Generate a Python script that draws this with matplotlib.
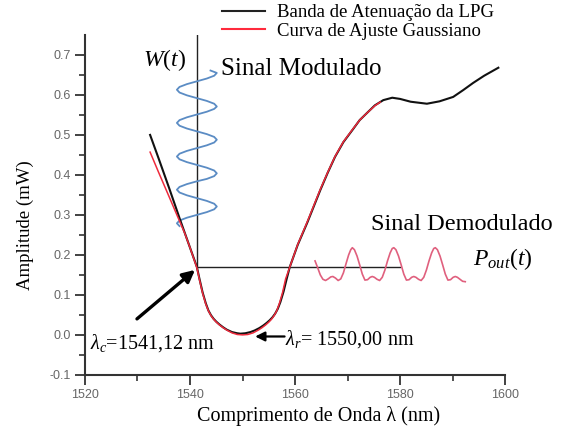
import matplotlib
matplotlib.use("Agg")
import matplotlib.pyplot as plt
from matplotlib.lines import Line2D

plt.rcParams['mathtext.fontset'] = 'custom'
plt.rcParams['mathtext.rm'] = 'Liberation Serif'
plt.rcParams['mathtext.it'] = 'Liberation Serif:italic'

SERIF = 'Liberation Serif'
SANS = 'Liberation Sans'

# --- data ---
# LPG attenuation band (black)
lpg_wl = [1532.4, 1534.0, 1536.0, 1538.0, 1540.0, 1541.3, 1541.8, 1542.4, 1543.0,
          1543.5, 1544.0, 1544.5, 1545.0, 1545.6, 1546.3, 1547.0, 1548.0, 1549.0,
          1549.6, 1550.5, 1551.5, 1552.3, 1553.2, 1553.9, 1554.6, 1555.2, 1555.7,
          1556.2, 1556.7, 1557.2, 1557.8, 1558.4, 1559.0, 1560.5, 1562.3, 1564.8,
          1566.2, 1567.6, 1569.2, 1570.9, 1572.3, 1573.7, 1575.2, 1576.8, 1578.5,
          1580.0, 1582.0, 1585.1, 1587.5, 1590.1, 1592.0, 1593.9, 1596.0, 1598.7]
lpg_amp = [0.500, 0.442, 0.368, 0.292, 0.218, 0.170, 0.140, 0.106, 0.079,
           0.061, 0.049, 0.040, 0.033, 0.026, 0.019, 0.013, 0.007, 0.004,
           0.003, 0.004, 0.007, 0.011, 0.017, 0.023, 0.030, 0.037, 0.044,
           0.053, 0.065, 0.082, 0.108, 0.140, 0.170, 0.225, 0.280, 0.362,
           0.405, 0.445, 0.482, 0.512, 0.537, 0.555, 0.574, 0.587, 0.593,
           0.590, 0.583, 0.578, 0.584, 0.595, 0.612, 0.630, 0.648, 0.668]

# gaussian fit (red)
fit_wl = [1532.4, 1534.0, 1536.0, 1537.5, 1539.0, 1540.0, 1541.3, 1541.8, 1542.4,
          1543.0, 1543.5, 1544.0, 1544.5, 1545.0, 1545.6, 1546.3, 1547.0, 1548.0,
          1549.0, 1550.0, 1551.0, 1552.0, 1553.0, 1553.7, 1554.4, 1555.0, 1555.5,
          1556.0, 1556.5, 1557.0, 1557.6, 1558.2, 1559.0, 1560.5, 1562.3, 1564.8,
          1566.2, 1567.6, 1569.2, 1570.9, 1572.3, 1573.7, 1575.2, 1576.2]
fit_amp = [0.457, 0.407, 0.346, 0.300, 0.254, 0.218, 0.168, 0.138, 0.104,
           0.077, 0.060, 0.048, 0.039, 0.032, 0.025, 0.018, 0.012, 0.005,
           0.001, 0.000, 0.001, 0.005, 0.012, 0.018, 0.025, 0.032, 0.039,
           0.048, 0.060, 0.078, 0.105, 0.140, 0.170, 0.226, 0.282, 0.364,
           0.406, 0.446, 0.483, 0.513, 0.537, 0.555, 0.573, 0.582]

# working point
lam_c = 1541.3
amp_c = 0.170
line_end = 1580.0

# modulated signal W(t): offsets (nm) around lam_c vs amplitude
mod_dx = [2.6, 3.8, 3.3, 1.9, 0.0, -1.9, -3.3, -3.8, -3.3, -1.9, 0.0, 1.9, 3.3,
          3.8, 3.3, 1.9, 0.0, -1.9, -3.3, -3.8, -3.3, -1.9, 0.0, 1.9, 3.3,
          3.8, 3.3, 1.9, 0.0, -1.9, -3.3, -3.8, -3.3, -1.9, 0.0, 1.9, 3.3,
          3.8, 3.3, 1.9, 0.0, -1.9, -3.3, -3.8, -3.3, -1.9, 0.0, 1.9, 3.3,
          3.8, 3.3, 1.9, 0.0, -1.9, -3.3, -3.8, -3.3]
mod_amp = [0.661, 0.655, 0.648, 0.641, 0.634, 0.627, 0.620, 0.613, 0.606, 0.599, 0.592, 0.585, 0.578,
           0.571, 0.565, 0.558, 0.551, 0.544, 0.537, 0.530, 0.523, 0.516, 0.509, 0.502, 0.495,
           0.488, 0.481, 0.474, 0.467, 0.460, 0.453, 0.446, 0.439, 0.432, 0.425, 0.418, 0.411,
           0.404, 0.397, 0.390, 0.384, 0.377, 0.370, 0.363, 0.356, 0.349, 0.342, 0.335, 0.328,
           0.321, 0.314, 0.307, 0.300, 0.293, 0.286, 0.279, 0.272]

# demodulated signal P_out(t)
dem_wl = [1563.8, 1564.3, 1564.8, 1565.3, 1565.8, 1566.3, 1566.8, 1567.2, 1567.7, 1568.2,
          1568.7, 1569.2, 1569.7, 1570.2, 1570.6, 1570.9, 1571.3, 1571.8, 1572.3, 1572.8,
          1573.3, 1573.8, 1574.3, 1574.7, 1575.1, 1575.6, 1576.1, 1576.6, 1577.1, 1577.6,
          1578.1, 1578.5, 1578.8, 1579.2, 1579.7, 1580.2, 1580.7, 1581.2, 1581.7, 1582.2,
          1582.6, 1583.0, 1583.5, 1584.0, 1584.5, 1585.0, 1585.5, 1586.0, 1586.4, 1586.7,
          1587.1, 1587.6, 1588.1, 1588.6, 1589.1, 1589.6, 1590.1, 1590.5, 1590.9, 1591.4,
          1591.9, 1592.4]
dem_amp = [0.185, 0.168, 0.150, 0.139, 0.136, 0.140, 0.145, 0.146, 0.142, 0.136,
           0.140, 0.155, 0.178, 0.200, 0.213, 0.218, 0.213, 0.197, 0.175, 0.152,
           0.137, 0.138, 0.144, 0.146, 0.144, 0.139, 0.136, 0.144, 0.162, 0.185,
           0.205, 0.216, 0.218, 0.213, 0.197, 0.175, 0.152, 0.137, 0.138, 0.144,
           0.146, 0.144, 0.139, 0.136, 0.144, 0.162, 0.185, 0.205, 0.216, 0.218,
           0.213, 0.197, 0.175, 0.152, 0.137, 0.138, 0.144, 0.146, 0.144, 0.139,
           0.134, 0.133]

x_ticks = [1520, 1540, 1560, 1580, 1600]
y_ticks = [-0.1, 0.0, 0.1, 0.2, 0.3, 0.4, 0.5, 0.6, 0.7]
y_ticklabels = ['-0.1', '0.0', '0.1', '0.2', '0.3', '0.4', '0.5', '0.6', '0.7']

# --- figure ---
fig = plt.figure(figsize=(5.82, 4.26), dpi=100)
ax = fig.add_axes([0.146, 0.120, 0.722, 0.798])

ax.plot(lpg_wl, lpg_amp, color='#111111', lw=1.5, zorder=3)
ax.plot(fit_wl, fit_amp, color='#ee2a3c', lw=1.1, zorder=4)

# working point lines
ax.plot([lam_c, lam_c], [amp_c, 0.75], color='#222222', lw=1.0, zorder=2)
ax.plot([lam_c, line_end], [amp_c, amp_c], color='#222222', lw=1.0, zorder=2)

mod_wl = [lam_c + d for d in mod_dx]
ax.plot(mod_wl, mod_amp, color='#5b8cc4', lw=1.3, zorder=2.5)
ax.plot(dem_wl, dem_amp, color='#e0607e', lw=1.2, zorder=2.5)

ax.set_xlim(1520, 1600)
ax.set_ylim(-0.1, 0.75)
ax.set_xticks(x_ticks)
ax.set_xticks([1530, 1550, 1570, 1590], minor=True)
ax.set_yticks(y_ticks)
ax.set_yticklabels(y_ticklabels)
ax.set_yticks([-0.05, 0.05, 0.15, 0.25, 0.35, 0.45, 0.55, 0.65], minor=True)

for s in ['top', 'right']:
    ax.spines[s].set_visible(False)
for s in ['left', 'bottom']:
    ax.spines[s].set_linewidth(1.5)
    ax.spines[s].set_color('#333333')
ax.tick_params(which='major', direction='out', length=7, width=1.3, color='#333333',
               labelsize=9, labelcolor='#666666', pad=3)
ax.tick_params(which='minor', direction='out', length=4, width=1.2, color='#333333')
for lab in ax.get_xticklabels() + ax.get_yticklabels():
    lab.set_family(SANS)

ax.set_xlabel('Comprimento de Onda λ (nm)', family=SERIF, fontsize=14.5)
ax.xaxis.set_label_coords(0.555, -0.092)
ax.set_ylabel('Amplitude (mW)', family=SERIF, fontsize=13.5)
ax.yaxis.set_label_coords(-0.122, 0.44)

# annotations
ax.text(1531.0, 0.688, '$W(t)$', fontsize=17, va='center', ha='left')
ax.text(1561.2, 0.665, 'Sinal Modulado', family=SERIF, fontsize=18, va='center', ha='center')
ax.text(1591.8, 0.275, 'Sinal Demodulado', family=SERIF, fontsize=17.5, va='center', ha='center')
ax.text(1593.9, 0.175, '$P_{out}(t)$', fontsize=17, va='baseline', ha='left')
ax.text(1520.95, -0.033, r'$\lambda_c$=1541,12 nm', family=SERIF, fontsize=14.5,
        va='baseline', ha='left')
ax.text(1558.0, -0.025, r'$\lambda_r$= 1550,00 nm', family=SERIF, fontsize=14.5,
        va='baseline', ha='left')

ax.annotate('', xy=(1540.95, 0.1625), xytext=(1529.9, 0.04),
            arrowprops=dict(arrowstyle='-|>', color='black', lw=2.4,
                            mutation_scale=18, shrinkA=0, shrinkB=0), zorder=6)
ax.annotate('', xy=(1552.4, -0.004), xytext=(1558.0, -0.004),
            arrowprops=dict(arrowstyle='-|>', color='black', lw=1.6,
                            mutation_scale=14, shrinkA=0, shrinkB=0), zorder=6)

handles = [Line2D([], [], color='#222222', lw=1.5),
           Line2D([], [], color='#ff2a3c', lw=1.5)]
labels = ['Banda de Atenuação da LPG', 'Curva de Ajuste Gaussiano']
ax.legend(handles, labels, loc='upper left', bbox_to_anchor=(222 / 582, 1 - 4 / 426),
          bbox_transform=fig.transFigure, frameon=False, handlelength=2.3,
          handletextpad=0.65, labelspacing=0.08, borderpad=0, borderaxespad=0,
          prop={'family': SERIF, 'size': 13.5})

fig.savefig('out.png', dpi=100)
